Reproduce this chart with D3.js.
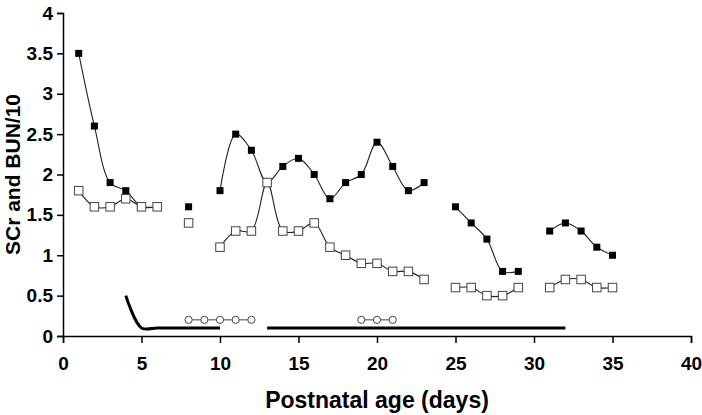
<!DOCTYPE html>
<html><head><meta charset="utf-8">
<script src="https://cdn.jsdelivr.net/npm/d3@7"></script>
<style>body{margin:0;background:#fff}svg{display:block}text{font-family:"Liberation Sans",Arial,sans-serif;font-weight:bold;fill:#000}</style>
</head><body>
<script>
// Data
const days = [1,2,3,4,5,6,7,8,9,10,11,12,13,14,15,16,17,18,19,20,21,22,23,24,25,26,27,28,29,30,31,32,33,34,35];
const scr = [3.5,2.6,1.9,1.8,1.6,1.6,null,1.6,null,1.8,2.5,2.3,1.9,2.1,2.2,2.0,1.7,1.9,2.0,2.4,2.1,1.8,1.9,null,1.6,1.4,1.2,0.8,0.8,null,1.3,1.4,1.3,1.1,1.0];
const bun10 = [1.8,1.6,1.6,1.7,1.6,1.6,null,1.4,null,1.1,1.3,1.3,1.9,1.3,1.3,1.4,1.1,1.0,0.9,0.9,0.8,0.8,0.7,null,0.6,0.6,0.5,0.5,0.6,null,0.6,0.7,0.7,0.6,0.6];
const scrMarkerDays = [1,2,3,4,8,10,11,12,13,14,15,16,17,18,19,20,21,22,23,25,26,27,28,29,31,32,33,34,35];
const therapy1X = [4,5,6,7,8,9,10];
const therapy1Y = [0.5,0.1,0.1,0.1,0.1,0.1,0.1];
const therapy2X = [13,32];
const therapy2Y = [0.1,0.1];
const circleDays1 = [8,9,10,11,12];
const circleDays2 = [19,20,21];
const circleLevel = 0.2;
const xTicks = [0,5,10,15,20,25,30,35,40];
const yTicks = [0,0.5,1,1.5,2,2.5,3,3.5,4];

const W=702,H=415, m={l:63,r:11,t:13,b:79};
const svg=d3.select("body").append("svg").attr("width",W).attr("height",H);
const x=d3.scaleLinear().domain([0,40]).range([m.l,W-m.r]);
const y=d3.scaleLinear().domain([0,4]).range([H-m.b,m.t]);

// axes
const xa=svg.append("g").attr("transform",`translate(0,${H-m.b})`)
  .call(d3.axisBottom(x).tickValues(xTicks).tickSize(7).tickPadding(14).tickFormat(d3.format("d")));
const ya=svg.append("g").attr("transform",`translate(${m.l},0)`)
  .call(d3.axisLeft(y).tickValues(yTicks).tickSize(6).tickPadding(4).tickFormat(d=>String(d)));
[xa,ya].forEach(a=>{a.select(".domain").attr("stroke","#000").attr("stroke-width",1.5);
  a.selectAll(".tick line").attr("stroke","#000").attr("stroke-width",1.5);
  a.selectAll(".tick text").style("font-size","19px").style("font-family","Liberation Sans, Arial, sans-serif").style("font-weight","bold");});

svg.append("text").attr("x",(m.l+W-m.r)/2).attr("y",408).attr("text-anchor","middle").style("font-size","23px").text("Postnatal age (days)");
svg.append("text").attr("transform",`translate(20,${(m.t+H-m.b)/2}) rotate(-90)`).attr("text-anchor","middle").style("font-size","21px").text("SCr and BUN/10");

const line=d3.line().defined(d=>d[1]!=null).x(d=>x(d[0])).y(d=>y(d[1])).curve(d3.curveCatmullRom.alpha(0.5));
const scrPts=days.map((d,i)=>[d,scr[i]]);
const bunPts=days.map((d,i)=>[d,bun10[i]]);

svg.append("path").datum(scrPts).attr("d",line).attr("fill","none").attr("stroke","#222").attr("stroke-width",1.1);
svg.append("path").datum(bunPts).attr("d",line).attr("fill","none").attr("stroke","#222").attr("stroke-width",1.1);

// therapy lines
const tline=d3.line().x((d)=>x(d[0])).y(d=>y(d[1])).curve(d3.curveCatmullRom.alpha(0.5));
svg.append("path").datum(therapy1X.map((d,i)=>[d,therapy1Y[i]])).attr("d",tline).attr("fill","none").attr("stroke","#000").attr("stroke-width",3);
svg.append("path").datum(therapy2X.map((d,i)=>[d,therapy2Y[i]])).attr("d",tline).attr("fill","none").attr("stroke","#000").attr("stroke-width",3);

// circles
[circleDays1,circleDays2].forEach(cd=>{
  svg.append("line").attr("x1",x(cd[0])).attr("x2",x(cd[cd.length-1])).attr("y1",y(circleLevel)).attr("y2",y(circleLevel)).attr("stroke","#444").attr("stroke-width",1);
  svg.selectAll(null).data(cd).enter().append("circle").attr("cx",d=>x(d)).attr("cy",y(circleLevel)).attr("r",3.6).attr("fill","#fff").attr("stroke","#444").attr("stroke-width",1);
});

// scr markers (filled)
const fs=7;
svg.selectAll(null).data(scrPts.filter(p=>p[1]!=null && scrMarkerDays.includes(p[0]))).enter().append("rect")
  .attr("x",d=>x(d[0])-fs/2).attr("y",d=>y(d[1])-fs/2).attr("width",fs).attr("height",fs).attr("fill","#000");
// bun markers (open)
const os=8.5;
svg.selectAll(null).data(bunPts.filter(p=>p[1]!=null)).enter().append("rect")
  .attr("x",d=>x(d[0])-os/2).attr("y",d=>y(d[1])-os/2).attr("width",os).attr("height",os).attr("fill","#fff").attr("stroke","#444").attr("stroke-width",1);
</script>
</body></html>
